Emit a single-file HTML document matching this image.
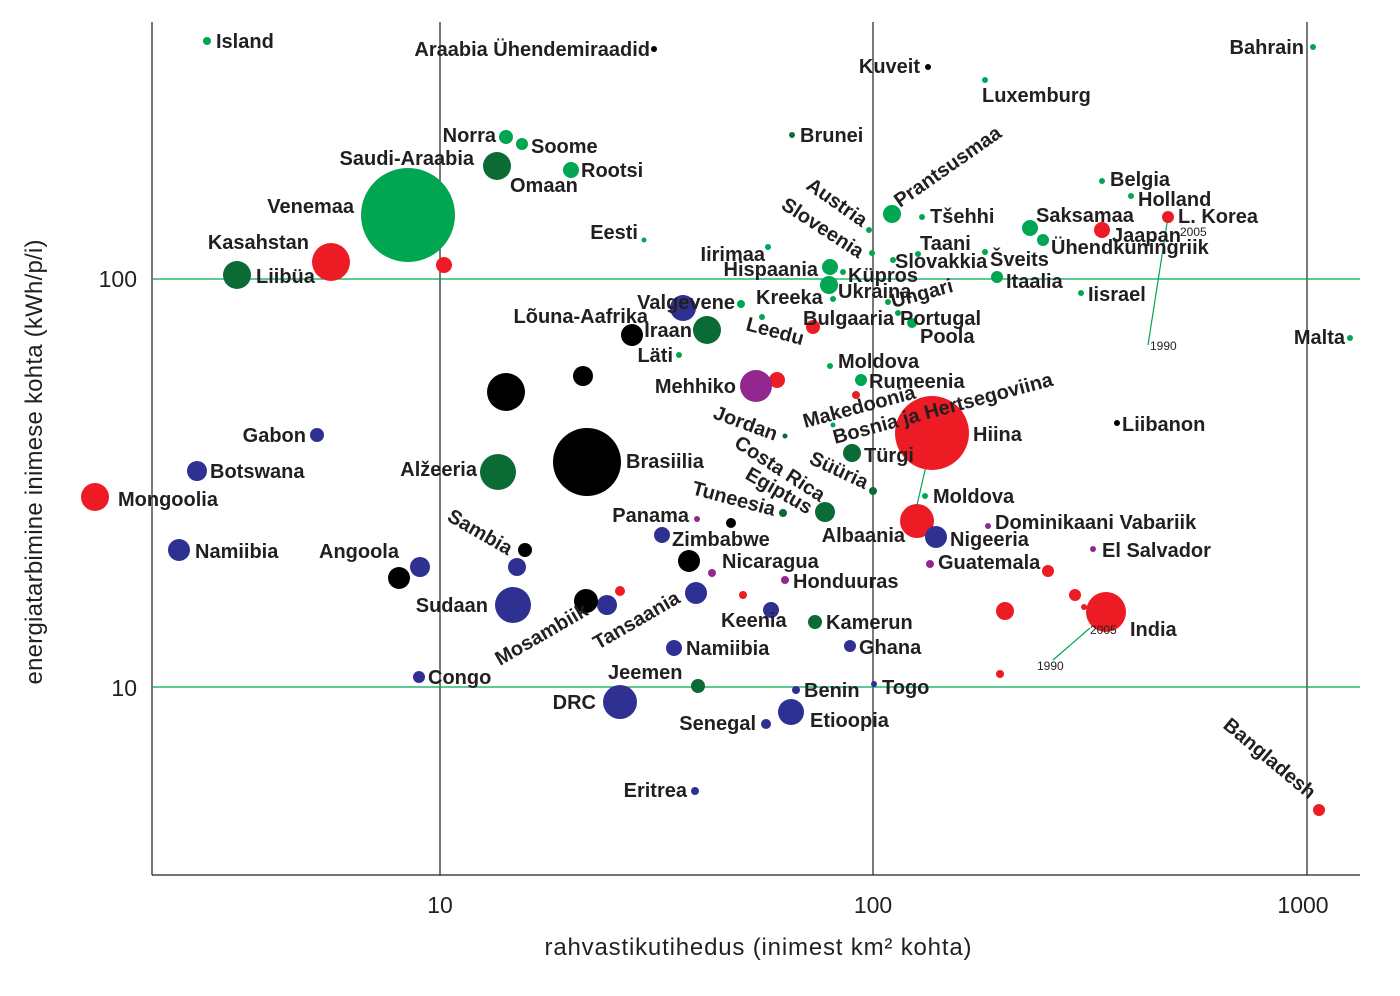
<!DOCTYPE html>
<html><head><meta charset="utf-8"><style>
body{margin:0;background:#fff}
svg{display:block}
text{font-family:"Liberation Sans",sans-serif}
.l{font-weight:bold;font-size:20px;fill:#231f20}
.s{font-size:12px;fill:#231f20}
.t{font-size:23px;fill:#231f20}
.ti{font-size:24px;fill:#231f20}
</style></head><body>
<svg width="1400" height="996" viewBox="0 0 1400 996">
<g stroke="#231f20" stroke-width="1.2" fill="none">
<line x1="152" y1="22" x2="152" y2="875"/><line x1="152" y1="875" x2="1360" y2="875"/>
<line x1="440" y1="22" x2="440" y2="875"/><line x1="873" y1="22" x2="873" y2="875"/><line x1="1307" y1="22" x2="1307" y2="875"/>
</g>
<g stroke="#00a651" stroke-width="1.2">
<line x1="152" y1="279" x2="1360" y2="279"/><line x1="152" y1="687" x2="1360" y2="687"/>
<line x1="1168" y1="217" x2="1148" y2="345"/><line x1="932" y1="440" x2="917" y2="505"/>
<line x1="1090" y1="628" x2="1053" y2="660"/>
</g>
<text class="t" x="137" y="287" text-anchor="end">100</text>
<text class="t" x="137" y="696" text-anchor="end">10</text>
<text class="t" x="440" y="913" text-anchor="middle">10</text>
<text class="t" x="873" y="913" text-anchor="middle">100</text>
<text class="t" x="1303" y="913" text-anchor="middle">1000</text>
<text class="ti" x="758" y="955" text-anchor="middle" textLength="427">rahvastikutihedus (inimest km² kohta)</text>
<text class="ti" transform="translate(42,462) rotate(-90)" text-anchor="middle" textLength="445">energiatarbimine inimese kohta (kWh/p/i)</text>
<g fill="#00a651">
<circle cx="207" cy="41" r="4"/><circle cx="1313" cy="47" r="3"/><circle cx="985" cy="80" r="3"/>
<circle cx="506" cy="137" r="7"/><circle cx="522" cy="144" r="6"/><circle cx="571" cy="170" r="8"/>
<circle cx="408" cy="215" r="47"/><circle cx="644" cy="240" r="2.5"/><circle cx="768" cy="247" r="3"/>
<circle cx="830" cy="267" r="8"/><circle cx="843" cy="272" r="3"/><circle cx="829" cy="285" r="9"/>
<circle cx="833" cy="299" r="3"/><circle cx="741" cy="304" r="4"/><circle cx="762" cy="317" r="3"/>
<circle cx="679" cy="355" r="3"/><circle cx="869" cy="230" r="3"/><circle cx="872" cy="253" r="3"/>
<circle cx="892" cy="214" r="9"/><circle cx="922" cy="217" r="3"/><circle cx="918" cy="254" r="3"/>
<circle cx="893" cy="260" r="3"/><circle cx="985" cy="252" r="3"/><circle cx="997" cy="277" r="6"/>
<circle cx="888" cy="302" r="3"/><circle cx="898" cy="313" r="3"/><circle cx="912" cy="323" r="5"/>
<circle cx="1030" cy="228" r="8"/><circle cx="1102" cy="181" r="3"/><circle cx="1131" cy="196" r="3"/>
<circle cx="1043" cy="240" r="6"/><circle cx="1081" cy="293" r="3"/><circle cx="1350" cy="338" r="3"/>
<circle cx="830" cy="366" r="3"/><circle cx="861" cy="380" r="6"/><circle cx="925" cy="496" r="3"/>
<circle cx="833" cy="425" r="2.5"/>
</g>
<g fill="#0b6b35">
<circle cx="792" cy="135" r="3"/><circle cx="497" cy="166" r="14"/><circle cx="237" cy="275" r="14"/>
<circle cx="707" cy="330" r="14"/><circle cx="498" cy="472" r="18"/><circle cx="852" cy="453" r="9"/>
<circle cx="873" cy="491" r="4"/><circle cx="825" cy="512" r="10"/><circle cx="783" cy="513" r="4"/>
<circle cx="913" cy="534" r="3"/><circle cx="815" cy="622" r="7"/><circle cx="698" cy="686" r="7"/>
<circle cx="785" cy="436" r="2.5"/>
</g>
<g fill="#ed1c24">
<circle cx="331" cy="262" r="19"/><circle cx="444" cy="265" r="8"/><circle cx="813" cy="327" r="7"/>
<circle cx="777" cy="380" r="8"/><circle cx="856" cy="395" r="4"/><circle cx="1102" cy="230" r="8"/>
<circle cx="1168" cy="217" r="6"/><circle cx="95" cy="497" r="14"/><circle cx="932" cy="433" r="37"/>
<circle cx="917" cy="521" r="17"/><circle cx="1048" cy="571" r="6"/><circle cx="1075" cy="595" r="6"/>
<circle cx="1084" cy="607" r="3"/><circle cx="1005" cy="611" r="9"/><circle cx="1106" cy="612" r="20"/>
<circle cx="1000" cy="674" r="4"/><circle cx="620" cy="591" r="5"/><circle cx="743" cy="595" r="4"/>
<circle cx="1319" cy="810" r="6"/>
</g>
<g fill="#2e3192">
<circle cx="683" cy="308" r="13"/><circle cx="317" cy="435" r="7"/><circle cx="197" cy="471" r="10"/>
<circle cx="936" cy="537" r="11"/><circle cx="662" cy="535" r="8"/><circle cx="179" cy="550" r="11"/>
<circle cx="420" cy="567" r="10"/><circle cx="517" cy="567" r="9"/><circle cx="513" cy="605" r="18"/>
<circle cx="607" cy="605" r="10"/><circle cx="696" cy="593" r="11"/><circle cx="771" cy="610" r="8"/>
<circle cx="674" cy="648" r="8"/><circle cx="850" cy="646" r="6"/><circle cx="419" cy="677" r="6"/>
<circle cx="796" cy="690" r="4"/><circle cx="874" cy="684" r="3"/><circle cx="620" cy="702" r="17"/>
<circle cx="791" cy="712" r="13"/><circle cx="766" cy="724" r="5"/><circle cx="695" cy="791" r="4"/>
</g>
<g fill="#000">
<circle cx="654" cy="49" r="3"/><circle cx="928" cy="67" r="3"/><circle cx="632" cy="335" r="11"/>
<circle cx="506" cy="392" r="19"/><circle cx="583" cy="376" r="10"/><circle cx="587" cy="462" r="34"/>
<circle cx="731" cy="523" r="5"/><circle cx="525" cy="550" r="7"/><circle cx="399" cy="578" r="11"/>
<circle cx="689" cy="561" r="11"/><circle cx="586" cy="601" r="12"/><circle cx="1117" cy="423" r="3"/>
</g>
<g fill="#92278f">
<circle cx="756" cy="386" r="16"/><circle cx="697" cy="519" r="3"/><circle cx="988" cy="526" r="3"/>
<circle cx="1093" cy="549" r="3"/><circle cx="930" cy="564" r="4"/><circle cx="712" cy="573" r="4"/>
<circle cx="785" cy="580" r="4"/>
</g>
<g class="l">
<text x="216" y="48">Island</text>
<text x="650" y="56" text-anchor="end">Araabia Ühendemiraadid</text>
<text x="920" y="73" text-anchor="end">Kuveit</text>
<text x="1304" y="54" text-anchor="end">Bahrain</text>
<text x="982" y="102">Luxemburg</text>
<text x="800" y="142">Brunei</text>
<text x="496" y="142" text-anchor="end">Norra</text>
<text x="531" y="153">Soome</text>
<text x="474" y="165" text-anchor="end">Saudi-Araabia</text>
<text x="510" y="192">Omaan</text>
<text x="581" y="177">Rootsi</text>
<text x="354" y="213" text-anchor="end">Venemaa</text>
<text x="309" y="249" text-anchor="end">Kasahstan</text>
<text x="256" y="283">Liibüa</text>
<text x="638" y="239" text-anchor="end">Eesti</text>
<text x="765" y="261" text-anchor="end">Iirimaa</text>
<text x="818" y="276" text-anchor="end">Hispaania</text>
<text x="848" y="282">Küpros</text>
<text x="838" y="298">Ukraina</text>
<text x="756" y="304">Kreeka</text>
<text x="735" y="309" text-anchor="end">Valgevene</text>
<text x="648" y="323" text-anchor="end">Lõuna-Aafrika</text>
<text x="692" y="337" text-anchor="end">Iraan</text>
<text x="803" y="325">Bulgaaria</text>
<text transform="translate(745,330) rotate(15)">Leedu</text>
<text x="673" y="362" text-anchor="end">Läti</text>
<text transform="translate(805,188) rotate(35)">Austria</text>
<text transform="translate(780,208) rotate(33)">Sloveenia</text>
<text transform="translate(900,208) rotate(-35)">Prantsusmaa</text>
<text x="930" y="223">Tšehhi</text>
<text x="920" y="250">Taani</text>
<text x="895" y="268">Slovakkia</text>
<text x="990" y="266">Šveits</text>
<text x="1006" y="288">Itaalia</text>
<text transform="translate(893,308) rotate(-15)">Ungari</text>
<text x="900" y="325">Portugal</text>
<text x="920" y="343">Poola</text>
<text x="1036" y="222">Saksamaa</text>
<text x="1110" y="186">Belgia</text>
<text x="1138" y="206">Holland</text>
<text x="1112" y="242">Jaapan</text>
<text x="1178" y="223">L. Korea</text>
<text x="1051" y="254">Ühendkuningriik</text>
<text x="1088" y="301">Iisrael</text>
<text x="1345" y="344" text-anchor="end">Malta</text>
<text x="838" y="368">Moldova</text>
<text x="869" y="388">Rumeenia</text>
<text x="736" y="393" text-anchor="end">Mehhiko</text>
<text x="306" y="442" text-anchor="end">Gabon</text>
<text x="210" y="478">Botswana</text>
<text x="118" y="506">Mongoolia</text>
<text x="477" y="476" text-anchor="end">Alžeeria</text>
<text x="626" y="468">Brasiilia</text>
<text transform="translate(805,428) rotate(-15)">Makedoonia</text>
<text transform="translate(835,444) rotate(-15)">Bosnia ja Hertsegoviina</text>
<text x="973" y="441">Hiina</text>
<text x="1122" y="431">Liibanon</text>
<text transform="translate(712,418) rotate(20)">Jordan</text>
<text transform="translate(733,446) rotate(33)">Costa Rica</text>
<text transform="translate(808,463) rotate(25)">Süüria</text>
<text x="864" y="462">Türgi</text>
<text transform="translate(744,478) rotate(30)">Egiptus</text>
<text transform="translate(691,494) rotate(15)">Tuneesia</text>
<text x="933" y="503">Moldova</text>
<text x="995" y="529">Dominikaani Vabariik</text>
<text x="905" y="542" text-anchor="end">Albaania</text>
<text x="950" y="546">Nigeeria</text>
<text x="689" y="522" text-anchor="end">Panama</text>
<text x="672" y="546">Zimbabwe</text>
<text x="1102" y="557">El Salvador</text>
<text x="938" y="569">Guatemala</text>
<text x="195" y="558">Namiibia</text>
<text x="319" y="558">Angoola</text>
<text transform="translate(446,520) rotate(30)">Sambia</text>
<text x="722" y="568">Nicaragua</text>
<text x="793" y="588">Honduuras</text>
<text x="1130" y="636">India</text>
<text x="488" y="612" text-anchor="end">Sudaan</text>
<text transform="translate(598,650) rotate(-30)">Tansaania</text>
<text transform="translate(500,666) rotate(-30)">Mosambiik</text>
<text x="721" y="627">Keenia</text>
<text x="826" y="629">Kamerun</text>
<text x="686" y="655">Namiibia</text>
<text x="859" y="654">Ghana</text>
<text x="428" y="684">Congo</text>
<text x="608" y="679">Jeemen</text>
<text x="804" y="697">Benin</text>
<text x="882" y="694">Togo</text>
<text x="596" y="709" text-anchor="end">DRC</text>
<text x="810" y="727">Etioopia</text>
<text x="756" y="730" text-anchor="end">Senegal</text>
<text x="687" y="797" text-anchor="end">Eritrea</text>
<text transform="translate(1222,727) rotate(40)">Bangladesh</text>
</g>
<text class="s" x="1180" y="236">2005</text>
<text class="s" x="1150" y="350">1990</text>
<text class="s" x="1090" y="634">2005</text>
<text class="s" x="1037" y="670">1990</text>
</svg>
</body></html>
